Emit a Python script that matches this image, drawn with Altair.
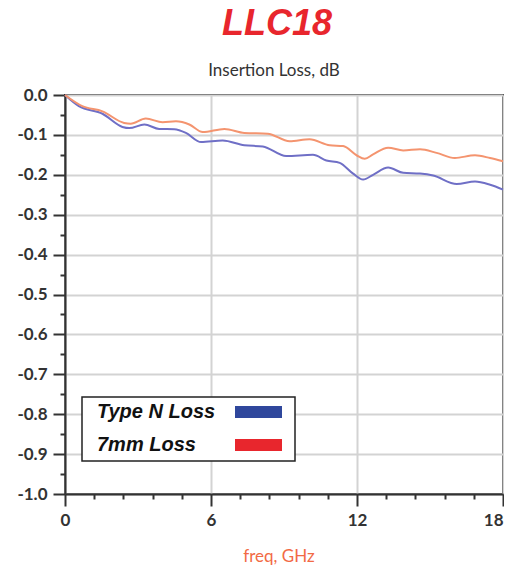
import altair as alt
import pandas as pd

# ---- data ----
series_names = ["Type N Loss", "7mm Loss"]

freq_typen = [0, 0.57, 1.54, 2.36, 2.64, 3.26, 3.87, 4.49, 4.97, 5.59, 6.48, 7.37, 8.13,
              9.09, 10.19, 10.74, 11.29, 11.84, 12.25, 12.66, 13.28, 13.90, 14.59, 15.13,
              16.10, 16.85, 17.47, 18.0]
loss_typen = [0, -0.028, -0.047, -0.080, -0.083, -0.074, -0.085, -0.086, -0.095, -0.118,
              -0.114, -0.126, -0.129, -0.153, -0.150, -0.164, -0.170, -0.197, -0.212,
              -0.200, -0.182, -0.195, -0.197, -0.202, -0.223, -0.217, -0.225, -0.237]

freq_7mm = [0, 0.71, 1.54, 2.43, 2.70, 3.32, 4.01, 4.56, 5.11, 5.66, 6.55, 7.37, 8.33,
            9.23, 10.05, 10.88, 11.43, 11.98, 12.32, 12.66, 13.28, 13.90, 14.59, 15.27,
            16.02, 16.85, 17.47, 18.0]
loss_7mm = [0, -0.028, -0.041, -0.070, -0.072, -0.059, -0.068, -0.066, -0.074, -0.093,
            -0.085, -0.095, -0.097, -0.116, -0.111, -0.126, -0.128, -0.151, -0.160,
            -0.149, -0.132, -0.139, -0.136, -0.145, -0.158, -0.151, -0.158, -0.166]

x_tick_values = [0, 1.2, 2.4, 3.6, 4.8, 6, 7.2, 8.4, 9.6, 10.8, 12, 13.2, 14.4, 15.6, 16.8, 18]
y_tick_values = [0, -0.05, -0.1, -0.15, -0.2, -0.25, -0.3, -0.35, -0.4, -0.45, -0.5,
                 -0.55, -0.6, -0.65, -0.7, -0.75, -0.8, -0.85, -0.9, -0.95, -1.0]

title_text = "LLC18"
subtitle_text = "Insertion Loss, dB"
x_title_text = "freq, GHz"

line_colors = ["#6f6fc6", "#f4946f"]
swatch_colors = ["#2f479c", "#e8262d"]

# ---- build table ----
df = pd.concat([
    pd.DataFrame({"freq": freq_typen, "loss": loss_typen, "series": series_names[0]}),
    pd.DataFrame({"freq": freq_7mm, "loss": loss_7mm, "series": series_names[1]}),
])

W, H = 438, 399
AXIS_COLOR = "#333333"
LABEL_FONT = "Lato"

x_major = "abs(datum.value/6 - round(datum.value/6)) < 0.01"
x_last = "datum.value > 17.9"
y_major = "abs(round(datum.value*100)) % 10 == 0"

x_axis = alt.Axis(
    values=x_tick_values,
    title=None,
    grid=True,
    gridColor="#d3d3d3",
    gridWidth=2,
    gridOpacity={"condition": {"test": x_major, "value": 1}, "value": 0},
    tickSize={"condition": {"test": x_major, "value": 12}, "value": 5},
    tickColor=AXIS_COLOR,
    tickWidth=2,
    domainColor=AXIS_COLOR,
    domainWidth=2,
    labelExpr=x_major + " ? format(datum.value, 'd') : ''",
    labelAlign={"condition": {"test": x_last, "value": "right"}, "value": "center"},
    labelFont=LABEL_FONT,
    labelFontWeight="bold",
    labelFontSize=17,
    labelColor=AXIS_COLOR,
    labelPadding=6,
    labelFlush=False,
    labelOverlap=False,
)

y_axis = alt.Axis(
    values=y_tick_values,
    title=None,
    grid=True,
    gridColor="#d3d3d3",
    gridWidth=2,
    gridOpacity={"condition": {"test": y_major, "value": 1}, "value": 0},
    tickSize={"condition": {"test": y_major, "value": 12}, "value": 5},
    tickColor=AXIS_COLOR,
    tickWidth=2,
    domainColor=AXIS_COLOR,
    domainWidth=2,
    labelExpr=y_major + " ? replace(format(datum.value, '.1f'), '\u2212', '-') : ''",
    labelFont=LABEL_FONT,
    labelFontWeight="bold",
    labelFontSize=17,
    labelColor=AXIS_COLOR,
    labelPadding=6,
    labelFlush=False,
    labelOverlap=False,
)

lines = alt.Chart(df).mark_line(strokeWidth=2, interpolate="monotone").encode(
    x=alt.X("freq:Q", scale=alt.Scale(domain=[0, 18], nice=False, zero=False), axis=x_axis),
    y=alt.Y("loss:Q", scale=alt.Scale(domain=[-1, 0], nice=False), axis=y_axis),
    color=alt.Color("series:N", scale=alt.Scale(domain=series_names, range=line_colors), legend=None),
)

one = pd.DataFrame({"k": [0]})

def text_layer(txt, x, y, **kw):
    return alt.Chart(pd.DataFrame({"t": [txt]})).mark_text(**kw).encode(
        text="t:N", x=alt.value(x), y=alt.value(y)
    )

title_layer = text_layer(title_text, 212, -60, font="Liberation Sans", fontSize=36,
                         fontWeight="bold", fontStyle="italic", color="#e8262d",
                         align="center", baseline="alphabetic")
subtitle_layer = text_layer(subtitle_text, 209, -19, font=LABEL_FONT, fontSize=17,
                            color="#333333", align="center", baseline="alphabetic")
xtitle_layer = text_layer(x_title_text, 214, 467, font=LABEL_FONT, fontSize=17,
                          color="#f26a45", align="center", baseline="alphabetic")

legend_box = alt.Chart(one).mark_rect(fill="white", stroke="#222222", strokeWidth=1.5).encode(
    x=alt.value(17), x2=alt.value(230), y=alt.value(302), y2=alt.value(366)
)
leg_text1 = text_layer(series_names[0], 32, 317, font="Liberation Sans", fontSize=20,
                       fontWeight="bold", fontStyle="italic", color="#111111",
                       align="left", baseline="middle")
leg_text2 = text_layer(series_names[1], 32, 350, font="Liberation Sans", fontSize=20,
                       fontWeight="bold", fontStyle="italic", color="#111111",
                       align="left", baseline="middle")
sw1 = alt.Chart(one).mark_rect(fill=swatch_colors[0]).encode(
    x=alt.value(170), x2=alt.value(217), y=alt.value(311), y2=alt.value(323)
)
sw2 = alt.Chart(one).mark_rect(fill=swatch_colors[1]).encode(
    x=alt.value(170), x2=alt.value(217), y=alt.value(344), y2=alt.value(356)
)

chart = alt.layer(
    lines, legend_box, leg_text1, leg_text2, sw1, sw2,
    title_layer, subtitle_layer, xtitle_layer,
).properties(
    width=W,
    height=H,
    autosize=alt.AutoSizeParams(type="none"),
    padding={"left": 57, "top": 87, "right": 1, "bottom": 72},
).configure_view(stroke=AXIS_COLOR, strokeWidth=2)

chart.save("out.html", embed_options={"renderer": "svg", "actions": False})
